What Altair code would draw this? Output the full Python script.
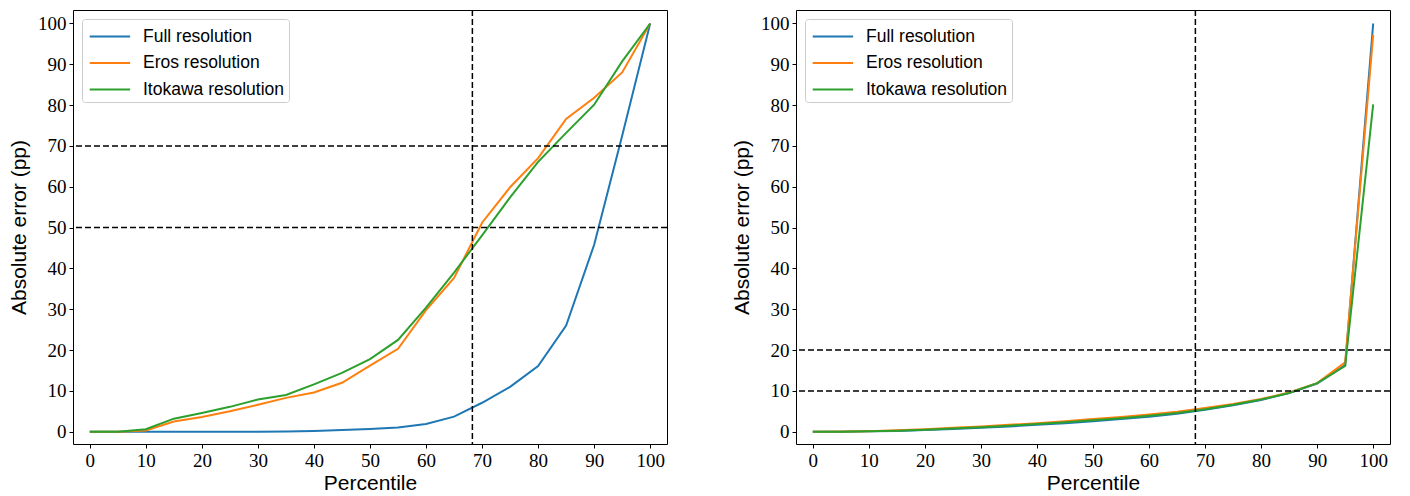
import altair as alt
import pandas as pd

percentiles = [0, 5, 10, 15, 20, 25, 30, 35, 40, 45, 50, 55, 60, 65, 70, 75, 80, 85, 90, 95, 100]
series_names = ["Full resolution", "Eros resolution", "Itokawa resolution"]
colors = ["#1f77b4", "#ff7f0e", "#2ca02c"]

left_full = [0, 0, 0, 0, 0, 0, 0.02, 0.08, 0.2, 0.4, 0.65, 1.05, 1.9, 3.7, 7.1, 11.0, 16.1, 26.0, 45.8, 72.5, 100]
left_eros = [0, 0, 0.3, 2.5, 3.6, 5.0, 6.6, 8.3, 9.6, 12.0, 16.2, 20.3, 29.8, 37.7, 51.2, 59.9, 67.0, 76.6, 81.8, 88.0, 100]
left_itokawa = [0, 0, 0.6, 3.2, 4.6, 6.1, 7.9, 9.0, 11.6, 14.4, 17.8, 22.5, 30.4, 39.0, 48.1, 57.4, 66.1, 73.2, 80.1, 90.7, 100]

right_full = [0, 0, 0.1, 0.2, 0.4, 0.7, 1.0, 1.3, 1.7, 2.1, 2.6, 3.1, 3.7, 4.4, 5.4, 6.5, 7.8, 9.5, 11.8, 16.3, 100]
right_eros = [0, 0.05, 0.15, 0.35, 0.6, 0.95, 1.3, 1.7, 2.1, 2.6, 3.1, 3.6, 4.2, 4.9, 5.8, 6.8, 8.0, 9.6, 11.9, 17.0, 97.2]
right_itokawa = [0, 0, 0.1, 0.25, 0.5, 0.8, 1.1, 1.5, 1.9, 2.3, 2.8, 3.3, 3.9, 4.6, 5.5, 6.6, 7.9, 9.5, 11.9, 16.1, 80.2]

vline_pos = [68.27]
left_hlines = [50, 70]
right_hlines = [10, 20]

tick_vals = [0, 10, 20, 30, 40, 50, 60, 70, 80, 90, 100]

SERIF = "Liberation Serif"
SANS = "Liberation Sans"


def make_df(full, eros, ito):
    rows = []
    for name, vals in zip(series_names, [full, eros, ito]):
        for i, (p, v) in enumerate(zip(percentiles, vals)):
            rows.append({"Percentile": p, "Error": v, "Series": name, "order": i})
    return pd.DataFrame(rows)


def panel(full, eros, ito, hlines):
    df = make_df(full, eros, ito)
    xs = alt.Scale(domain=[-3, 103], nice=False, zero=False)
    ys = alt.Scale(domain=[-3, 103.3], nice=False, zero=False)
    lines = alt.Chart(df).mark_line(strokeWidth=2, clip=True).encode(
        x=alt.X("Percentile:Q", scale=xs,
                axis=alt.Axis(values=tick_vals, title="Percentile", grid=False, domain=False,
                              tickColor="black", tickSize=4, labelFont=SERIF, labelFontSize=19,
                              labelColor="black", labelPadding=3, titleFont=SANS, titleFontSize=21,
                              titleFontWeight="normal", titleColor="black", titlePadding=2)),
        y=alt.Y("Error:Q", scale=ys,
                axis=alt.Axis(values=tick_vals, title="Absolute error (pp)", grid=False, domain=False,
                              tickColor="black", tickSize=4, labelFont=SERIF, labelFontSize=19,
                              labelColor="black", labelPadding=3, titleFont=SANS, titleFontSize=21,
                              titleFontWeight="normal", titleColor="black", titlePadding=8)),
        color=alt.Color("Series:N", scale=alt.Scale(domain=series_names, range=colors),
                        sort=series_names,
                        legend=alt.Legend(title=None, orient="top-left", offset=9,
                                          symbolType="M-0.8,0H2.5", symbolSize=600,
                                          symbolStrokeWidth=2, labelFont=SANS, labelFontSize=17.5,
                                          labelColor="black", labelOffset=30, rowPadding=4.5,
                                          padding=4, strokeColor="#cccccc", cornerRadius=3,
                                          fillColor="white")),
        order="order:Q",
        detail="Series:N",
    )
    hdf = pd.DataFrame({"y": hlines})
    hr = alt.Chart(hdf).mark_rule(color="black", strokeWidth=1.5, strokeDash=[6, 3]).encode(
        y=alt.Y("y:Q", scale=ys)
    )
    vdf = pd.DataFrame({"x": vline_pos})
    vr = alt.Chart(vdf).mark_rule(color="black", strokeWidth=1.5, strokeDash=[6, 3]).encode(
        x=alt.X("x:Q", scale=xs)
    )
    return alt.layer(lines, hr, vr).properties(width=594, height=434)


left = panel(left_full, left_eros, left_itokawa, left_hlines)
right = panel(right_full, right_eros, right_itokawa, right_hlines)

chart = alt.hconcat(left, right, spacing=62).resolve_scale(color="independent").properties(
    padding=0, background="white"
).configure_view(stroke="black", strokeWidth=1)

chart.save("out.html", embed_options={"renderer": "svg", "actions": False})
